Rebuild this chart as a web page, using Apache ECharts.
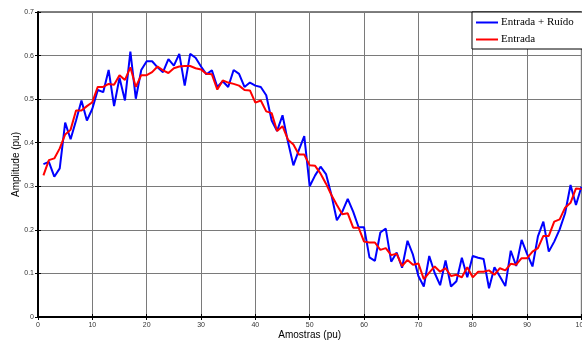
<!DOCTYPE html>
<html>
<head>
<meta charset="utf-8">
<script src="https://cdn.jsdelivr.net/npm/echarts@6/dist/echarts.min.js"></script>
<style>html,body{margin:0;padding:0;background:#fff;}#c{width:582px;height:342px;}</style>
</head>
<body>
<div id="c"></div>
<script>
const samples = Array.from({length: 100}, (_, i) => i + 1);
const noisy = [
0.351,0.356,0.322,0.341,0.446,0.408,0.451,0.497,0.451,0.478,
0.521,0.516,0.567,0.484,0.549,0.497,0.609,0.501,0.567,0.587,
0.587,0.573,0.562,0.592,0.577,0.604,0.531,0.604,0.595,0.575,
0.557,0.566,0.528,0.541,0.528,0.567,0.558,0.528,0.538,0.531,
0.528,0.509,0.451,0.427,0.463,0.402,0.348,0.383,0.415,0.300,
0.325,0.345,0.328,0.280,0.222,0.242,0.271,0.242,0.206,0.206,
0.137,0.129,0.194,0.203,0.127,0.148,0.113,0.175,0.143,0.094,
0.070,0.140,0.101,0.073,0.130,0.070,0.082,0.136,0.091,0.140,
0.136,0.133,0.066,0.114,0.093,0.071,0.152,0.117,0.177,0.145,
0.116,0.185,0.219,0.150,0.173,0.201,0.238,0.303,0.257,0.299
];
const clean = [
0.325,0.360,0.364,0.387,0.419,0.430,0.474,0.474,0.484,0.493,
0.528,0.528,0.535,0.533,0.555,0.544,0.573,0.528,0.555,0.555,
0.562,0.575,0.566,0.560,0.571,0.575,0.576,0.576,0.571,0.568,
0.558,0.557,0.522,0.543,0.538,0.535,0.531,0.521,0.520,0.492,
0.497,0.472,0.468,0.427,0.438,0.407,0.396,0.373,0.373,0.348,
0.347,0.329,0.306,0.280,0.257,0.236,0.238,0.205,0.205,0.173,
0.171,0.171,0.154,0.158,0.142,0.145,0.117,0.131,0.120,0.123,
0.087,0.102,0.116,0.104,0.112,0.094,0.097,0.091,0.114,0.091,
0.104,0.104,0.107,0.097,0.112,0.107,0.122,0.120,0.135,0.135,
0.150,0.158,0.186,0.186,0.219,0.224,0.251,0.262,0.295,0.294
];
const seriesNames = ['Entrada + Ruído', 'Entrada'];
const xLabel = 'Amostras (pu)';
const yLabel = 'Amplitude (pu)';

const chart = echarts.init(document.getElementById('c'), null, {renderer: 'canvas'});
const lbl = {fontFamily: 'Liberation Sans', fontSize: 7, color: '#333'};
chart.setOption({
  animation: false,
  backgroundColor: '#fff',
  grid: {left: 38, top: 12, right: 0.6, bottom: 25, show: true, borderColor: '#000', borderWidth: 1,
         containLabel: false, outerBoundsMode: 'none'},
  legend: {
    orient: 'vertical', left: 472, top: 12,
    padding: [5, 30, 4, 4], itemGap: 6,
    borderColor: '#000', borderWidth: 1, backgroundColor: '#fff',
    itemWidth: 22, itemHeight: 2, icon: 'rect',
    textStyle: {fontFamily: 'Liberation Serif', fontSize: 11, color: '#000', padding: [0,0,0,-2]},
    data: seriesNames
  },
  xAxis: [{
    type: 'value', min: 0, max: 100, interval: 10,
    name: xLabel, nameLocation: 'middle', nameGap: 13, nameMoveOverlap: false,
    nameTextStyle: {fontFamily: 'Liberation Sans', fontSize: 10, color: '#000'},
    axisLine: {show: true, onZero: false, lineStyle: {color: '#000', width: 2}},
    axisTick: {show: true, inside: true, length: 3, lineStyle: {color: '#000'}},
    axisLabel: Object.assign({margin: 5}, lbl),
    splitLine: {show: true, lineStyle: {color: '#7a7a7a', width: 1}}
  }, {
    type: 'value', min: 0, max: 100, interval: 10, position: 'top',
    axisLine: {show: true, lineStyle: {color: '#000', width: 1}},
    axisTick: {show: true, inside: true, length: 3, lineStyle: {color: '#000'}},
    axisLabel: {show: false}, splitLine: {show: false}
  }],
  yAxis: [{
    type: 'value', min: 0, max: 0.7, interval: 0.1,
    name: yLabel, nameLocation: 'middle', nameGap: 17, nameMoveOverlap: false,
    nameTextStyle: {fontFamily: 'Liberation Sans', fontSize: 10, color: '#000'},
    axisLine: {show: true, onZero: false, lineStyle: {color: '#000', width: 2}},
    axisTick: {show: true, inside: true, length: 3, lineStyle: {color: '#000'}},
    axisLabel: Object.assign({margin: 4, formatter: v => (Math.round(v*10)/10).toString()}, lbl),
    splitLine: {show: true, lineStyle: {color: '#7a7a7a', width: 1}}
  }, {
    type: 'value', min: 0, max: 0.7, interval: 0.1, position: 'right',
    axisLine: {show: true, lineStyle: {color: '#000', width: 1}},
    axisTick: {show: true, inside: true, length: 3, lineStyle: {color: '#000'}},
    axisLabel: {show: false}, splitLine: {show: false}
  }],
  series: [{
    name: seriesNames[0], type: 'line', showSymbol: false, symbol: 'none',
    data: samples.map((x, i) => [x, noisy[i]]),
    lineStyle: {color: '#0000ff', width: 2}, itemStyle: {color: '#0000ff'}, z: 2
  }, {
    name: seriesNames[1], type: 'line', showSymbol: false, symbol: 'none',
    data: samples.map((x, i) => [x, clean[i]]),
    lineStyle: {color: '#ff0000', width: 2}, itemStyle: {color: '#ff0000'}, z: 3
  }]
});
</script>
</body>
</html>
